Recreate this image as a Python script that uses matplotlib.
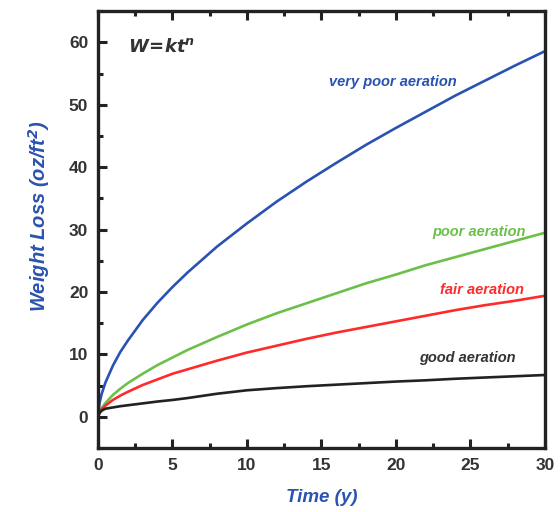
import matplotlib.pyplot as plt
from matplotlib.ticker import MultipleLocator

plt.rcParams['font.family'] = ['Liberation Sans', 'DejaVu Sans']

# time (years)
t = [0, 0.1, 0.25, 0.5, 1, 1.5, 2, 3, 4, 5, 6, 8, 10, 12, 14, 16, 18, 20, 22, 24, 26, 28, 30]
very_poor = [0, 2.2, 3.7, 5.5, 8.2, 10.4, 12.2, 15.5, 18.3, 20.8, 23.1, 27.3, 31.0, 34.5,
             37.7, 40.7, 43.6, 46.3, 48.9, 51.5, 53.9, 56.3, 58.6]
poor = [0, 0.8, 1.4, 2.2, 3.5, 4.5, 5.4, 6.9, 8.3, 9.5, 10.7, 12.8, 14.8, 16.6,
        18.2, 19.8, 21.4, 22.8, 24.3, 25.6, 26.9, 28.2, 29.5]
fair = [0, 0.7, 1.2, 1.8, 2.7, 3.4, 4.0, 5.1, 6.0, 6.9, 7.6, 9.0, 10.3, 11.4,
        12.5, 13.5, 14.4, 15.3, 16.2, 17.1, 17.9, 18.6, 19.4]
good = [0, 0.6, 1.0, 1.3, 1.5, 1.7, 1.85, 2.15, 2.45, 2.7, 3.0, 3.7, 4.25, 4.6,
        4.9, 5.15, 5.4, 5.65, 5.85, 6.1, 6.3, 6.5, 6.7]

fig = plt.figure(figsize=(5.6, 5.12), dpi=100)
ax = fig.add_axes([0.175, 0.125, 0.798, 0.853])

ax.plot(t, very_poor, color='#2a52b0', lw=1.9)
ax.plot(t, poor, color='#6cc04a', lw=1.9)
ax.plot(t, fair, color='#ff2a2a', lw=1.9)
ax.plot(t, good, color='#222222', lw=1.9)

lab = dict(fontsize=10.5, fontweight='bold', fontstyle='italic', ha='center', va='center')
ax.text(19.8, 53.7, 'very poor aeration', color='#2a52b0', **lab)
ax.text(25.6, 29.7, 'poor aeration', color='#6cc04a', **lab)
ax.text(25.8, 20.3, 'fair aeration', color='#ff2a2a', **lab)
ax.text(24.8, 9.4, 'good aeration', color='#333333', **lab)
ax.text(2.0, 59.3, r'$\mathbfit{W\!=\!kt^n}$', color='#333333',
        fontsize=13, ha='left', va='center')

ax.set_xlim(0, 30)
ax.set_ylim(-5, 65)
ax.xaxis.set_major_locator(MultipleLocator(5))
ax.xaxis.set_minor_locator(MultipleLocator(2.5))
ax.yaxis.set_major_locator(MultipleLocator(10))
ax.yaxis.set_minor_locator(MultipleLocator(5))
ax.tick_params(which='both', direction='in', top=True, right=False, width=2.2, colors='#222222')
ax.tick_params(which='major', length=6.5, labelsize=12.5, pad=7)
ax.tick_params(which='minor', length=3.5)
for lbl in ax.get_xticklabels() + ax.get_yticklabels():
    lbl.set_fontweight('bold')
    lbl.set_color('#333333')
for s in ax.spines.values():
    s.set_linewidth(2.4)
    s.set_color('#222222')

ax.set_xlabel('Time (y)', color='#2a52b0', fontsize=13.5, fontweight='bold', fontstyle='italic', labelpad=12)
ax.set_ylabel('Weight Loss (oz/ft$^{\\mathbfit{2}}$)', color='#2a52b0', fontsize=14.5,
              fontweight='bold', fontstyle='italic')
ax.yaxis.set_label_coords(-0.103, 0.53)

fig.savefig('out.png', dpi=100)
